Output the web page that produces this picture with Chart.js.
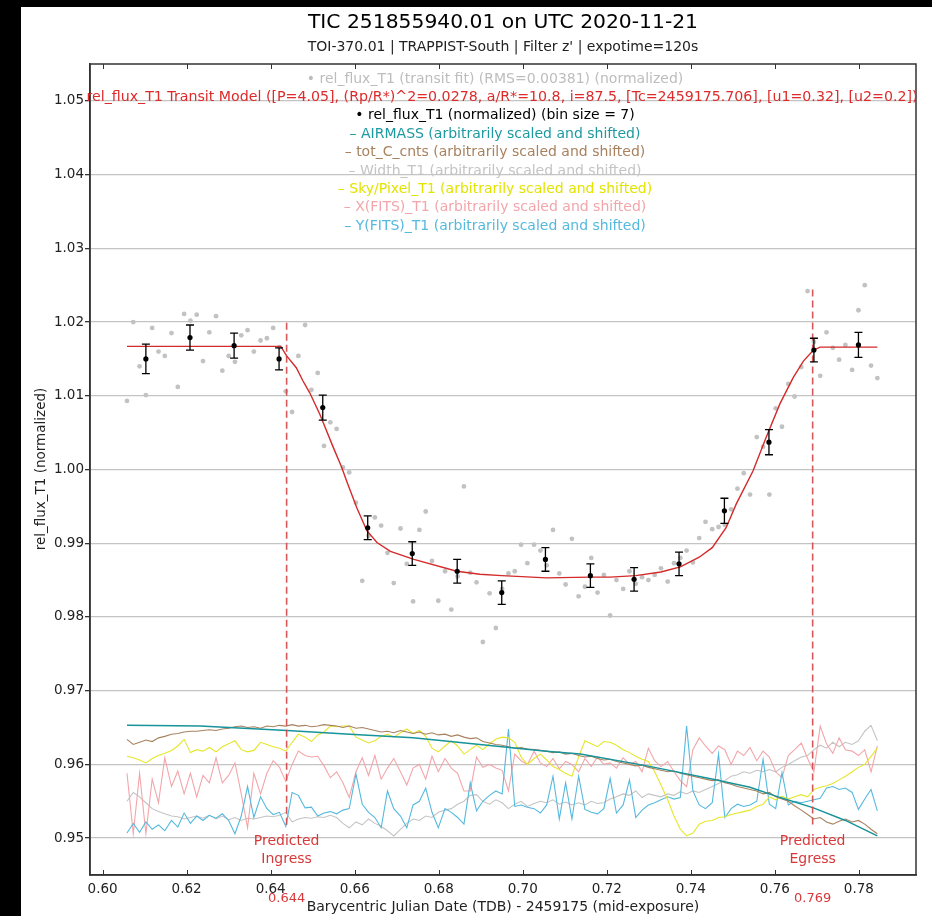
<!DOCTYPE html>
<html>
<head>
<meta charset="utf-8">
<script src="https://cdn.jsdelivr.net/npm/chart.js@4.4.1/dist/chart.umd.min.js"></script>
<style>
  html, body { margin: 0; padding: 0; background: #000; }
  #wrap { position: absolute; left: 21px; top: 7px; width: 911px; height: 909px; background: #fff; }
  canvas { display: block; }
</style>
</head>
<body>
<div id="wrap"><canvas id="lightCurve" width="911" height="909"></canvas></div>
<script>
// time stamps (BJD_TDB - 2459175)
const times = [
  0.6058, 0.6073, 0.6088, 0.6103, 0.6118, 0.6133, 0.6148, 0.6164, 0.6179, 0.6194,
  0.6209, 0.6224, 0.6239, 0.6254, 0.6270, 0.6285, 0.6300, 0.6315, 0.6330, 0.6345,
  0.6360, 0.6376, 0.6391, 0.6406, 0.6421, 0.6436, 0.6451, 0.6466, 0.6482, 0.6497,
  0.6512, 0.6527, 0.6542, 0.6557, 0.6572, 0.6587, 0.6603, 0.6618, 0.6633, 0.6648,
  0.6663, 0.6678, 0.6693, 0.6709, 0.6724, 0.6739, 0.6754, 0.6769, 0.6784, 0.6799,
  0.6815, 0.6830, 0.6845, 0.6860, 0.6875, 0.6890, 0.6905, 0.6921, 0.6936, 0.6951,
  0.6966, 0.6981, 0.6996, 0.7011, 0.7027, 0.7042, 0.7057, 0.7072, 0.7087, 0.7102,
  0.7117, 0.7133, 0.7148, 0.7163, 0.7178, 0.7193, 0.7208, 0.7223, 0.7239, 0.7254,
  0.7269, 0.7284, 0.7299, 0.7314, 0.7329, 0.7345, 0.7360, 0.7375, 0.7390, 0.7405,
  0.7420, 0.7435, 0.7451, 0.7466, 0.7481, 0.7496, 0.7511, 0.7526, 0.7541, 0.7557,
  0.7572, 0.7587, 0.7602, 0.7617, 0.7632, 0.7647, 0.7663, 0.7678, 0.7693, 0.7708,
  0.7723, 0.7738, 0.7753, 0.7768, 0.7784, 0.7799, 0.7814, 0.7829, 0.7844
];

// rel_flux_T1, normalized, unbinned
const relFlux = [
  1.0093, 1.0200, 1.0140, 1.0101, 1.0192, 1.0160, 1.0154, 1.0185, 1.0112, 1.0211,
  1.0202, 1.0210, 1.0147, 1.0186, 1.0208, 1.0134, 1.0154, 1.0146, 1.0182, 1.0189,
  1.0160, 1.0175, 1.0178, 1.0192, 1.0166, 1.0106, 1.0078, 1.0154, 1.0196, 1.0108,
  1.0131, 1.0032, 1.0064, 1.0055, 1.0003, 0.9996, 0.9955, 0.9849, 0.9910, 0.9935,
  0.9924, 0.9887, 0.9846, 0.9920, 0.9872, 0.9821, 0.9918, 0.9943, 0.9876, 0.9822,
  0.9862, 0.9810, 0.9855, 0.9977, 0.9860, 0.9847, 0.9766, 0.9832, 0.9785, 0.9838,
  0.9859, 0.9862, 0.9898, 0.9873, 0.9898, 0.9890, 0.9870, 0.9918, 0.9859, 0.9844,
  0.9906, 0.9828, 0.9841, 0.9880, 0.9833, 0.9857, 0.9802, 0.9850, 0.9838, 0.9862,
  0.9845, 0.9854, 0.9850, 0.9857, 0.9866, 0.9848, 0.9873, 0.9880, 0.9890, 0.9874,
  0.9907, 0.9929, 0.9919, 0.9922, 0.9925, 0.9946, 0.9974, 0.9995, 0.9966, 1.0044,
  1.0031, 0.9966, 1.0083, 1.0058, 1.0116, 1.0099, 1.0139, 1.0242, 1.0173, 1.0127,
  1.0186, 1.0165, 1.0149, 1.0169, 1.0135, 1.0216, 1.0250, 1.0141, 1.0124
];

// binned (bin size = 7)
const binTimes = [0.6103, 0.6208, 0.6313, 0.6420, 0.6524, 0.6631, 0.6737, 0.6844, 0.6950,
  0.7054, 0.7161, 0.7265, 0.7372, 0.7480, 0.7586, 0.7693, 0.7799];
const binFlux = [1.0150, 1.0179, 1.0168, 1.0150, 1.0084, 0.9921, 0.9886, 0.9862, 0.9833,
  0.9878, 0.9856, 0.9851, 0.9872, 0.9944, 1.0037, 1.0162, 1.0169];
const binErr = [0.0020, 0.0017, 0.0017, 0.0015, 0.0017, 0.0016, 0.0016, 0.0016, 0.0016,
  0.0016, 0.0016, 0.0016, 0.0016, 0.0017, 0.0017, 0.0016, 0.0017];

// transit model
const modelTimes = [0.6058, 0.6424, 0.6438, 0.6461, 0.6477, 0.6493, 0.6517, 0.6549, 0.6569,
  0.6581, 0.6605, 0.6629, 0.6653, 0.6685, 0.6741, 0.6843, 0.6898, 0.6950, 0.7057, 0.7160,
  0.7208, 0.7269, 0.7329, 0.7375, 0.7420, 0.7451, 0.7484, 0.7508, 0.7548, 0.7579, 0.7612,
  0.7644, 0.7668, 0.7692, 0.7708, 0.7844];
const modelFlux = [1.0167, 1.0167, 1.0154, 1.0138, 1.0120, 1.0104, 1.0075, 1.0030, 1.0003,
  0.9984, 0.9948, 0.9917, 0.9901, 0.9889, 0.9878, 0.9862, 0.9858, 0.9856, 0.9853, 0.9854,
  0.9854, 0.9856, 0.9861, 0.9868, 0.9881, 0.9894, 0.9921, 0.9953, 0.9998, 1.0043, 1.0089,
  1.0125, 1.0147, 1.0162, 1.0166, 1.0166];

// comparison quantities (arbitrarily scaled and shifted)
const airmassTimes = [0.6058, 0.6232, 0.6439, 0.6589, 0.6739, 0.6898, 0.7056, 0.7137,
  0.7296, 0.7453, 0.7541, 0.7613, 0.7692, 0.7768, 0.7844];
const airmass = [0.9653, 0.9652, 0.9646, 0.9641, 0.9636, 0.9627, 0.9618, 0.9614,
  0.9598, 0.9580, 0.9569, 0.9555, 0.9541, 0.9524, 0.9503];

const totCnts = [
  0.9634, 0.9627, 0.9630, 0.9633, 0.9631, 0.9636, 0.9638, 0.9641, 0.9642, 0.9644,
  0.9645, 0.9645, 0.9646, 0.9647, 0.9646, 0.9648, 0.9649, 0.9651, 0.9652, 0.9650,
  0.9651, 0.9649, 0.9652, 0.9651, 0.9653, 0.9652, 0.9654, 0.9652, 0.9653, 0.9651,
  0.9652, 0.9654, 0.9653, 0.9652, 0.9650, 0.9652, 0.9649, 0.9650, 0.9648, 0.9646,
  0.9644, 0.9645, 0.9643, 0.9646, 0.9644, 0.9642, 0.9644, 0.9641, 0.9643, 0.9640,
  0.9641, 0.9638, 0.9640, 0.9637, 0.9635, 0.9636, 0.9631, 0.9629, 0.9627, 0.9626,
  0.9624, 0.9622, 0.9623, 0.9621, 0.9620, 0.9619, 0.9618, 0.9616, 0.9617, 0.9614,
  0.9615, 0.9612, 0.9610, 0.9611, 0.9608, 0.9606, 0.9607, 0.9604, 0.9602, 0.9600,
  0.9598, 0.9599, 0.9596, 0.9594, 0.9592, 0.9590, 0.9591, 0.9588, 0.9586, 0.9584,
  0.9582, 0.9580, 0.9578, 0.9579, 0.9575, 0.9573, 0.9570, 0.9568, 0.9566, 0.9564,
  0.9560, 0.9562, 0.9556, 0.9553, 0.9550, 0.9544, 0.9538, 0.9532, 0.9526, 0.9528,
  0.9522, 0.9519, 0.9523, 0.9526, 0.9522, 0.9524, 0.9519, 0.9512, 0.9506
];

const widthT1 = [
  0.9550, 0.9562, 0.9556, 0.9548, 0.9540, 0.9536, 0.9533, 0.9530, 0.9529, 0.9526,
  0.9528, 0.9530, 0.9527, 0.9531, 0.9526, 0.9530, 0.9525, 0.9528, 0.9524, 0.9527,
  0.9526, 0.9528, 0.9530, 0.9529, 0.9531, 0.9535, 0.9522, 0.9526, 0.9528, 0.9527,
  0.9529, 0.9528, 0.9531, 0.9528, 0.9520, 0.9514, 0.9522, 0.9518, 0.9526, 0.9520,
  0.9516, 0.9510, 0.9503, 0.9512, 0.9520, 0.9526, 0.9524, 0.9530, 0.9528, 0.9535,
  0.9538, 0.9540, 0.9546, 0.9550, 0.9558, 0.9559, 0.9550, 0.9546, 0.9552, 0.9548,
  0.9540, 0.9546, 0.9550, 0.9543, 0.9547, 0.9550, 0.9548, 0.9552, 0.9546, 0.9549,
  0.9545, 0.9548, 0.9545, 0.9550, 0.9547, 0.9548, 0.9553, 0.9556, 0.9560, 0.9558,
  0.9564, 0.9555, 0.9560, 0.9558, 0.9556, 0.9560, 0.9558, 0.9563, 0.9560, 0.9564,
  0.9562, 0.9566, 0.9570, 0.9574, 0.9578, 0.9584, 0.9586, 0.9590, 0.9588, 0.9592,
  0.9590, 0.9593, 0.9590, 0.9596, 0.9600, 0.9605, 0.9610, 0.9612, 0.9620, 0.9626,
  0.9622, 0.9630, 0.9624, 0.9630, 0.9627, 0.9632, 0.9645, 0.9653, 0.9632
];

const skyPixel = [
  0.9611, 0.9609, 0.9606, 0.9602, 0.9608, 0.9612, 0.9615, 0.9619, 0.9625, 0.9634,
  0.9616, 0.9620, 0.9618, 0.9623, 0.9617, 0.9624, 0.9628, 0.9632, 0.9620, 0.9617,
  0.9619, 0.9630, 0.9627, 0.9624, 0.9622, 0.9618, 0.9630, 0.9641, 0.9637, 0.9631,
  0.9640, 0.9644, 0.9652, 0.9651, 0.9652, 0.9652, 0.9637, 0.9633, 0.9629, 0.9632,
  0.9638, 0.9641, 0.9637, 0.9643, 0.9648, 0.9642, 0.9646, 0.9638, 0.9622, 0.9617,
  0.9625, 0.9632, 0.9625, 0.9614, 0.9620, 0.9626, 0.9620, 0.9628, 0.9634, 0.9637,
  0.9636, 0.9630, 0.9610, 0.9600, 0.9608, 0.9614, 0.9606, 0.9597, 0.9593, 0.9588,
  0.9584, 0.9610, 0.9632, 0.9628, 0.9624, 0.9631, 0.9630, 0.9626, 0.9620, 0.9616,
  0.9611, 0.9607, 0.9604, 0.9590, 0.9572, 0.9552, 0.9530, 0.9512, 0.9503, 0.9507,
  0.9519, 0.9523, 0.9524, 0.9528, 0.9529, 0.9532, 0.9534, 0.9536, 0.9538, 0.9543,
  0.9546, 0.9556, 0.9552, 0.9557, 0.9553, 0.9556, 0.9559, 0.9556, 0.9566, 0.9569,
  0.9571, 0.9574, 0.9579, 0.9584, 0.9590, 0.9596, 0.9600, 0.9611, 0.9622
];

const xFits = [
  0.9588, 0.9506, 0.9588, 0.9506, 0.9580, 0.9548, 0.9609, 0.9570, 0.9591, 0.9560,
  0.9588, 0.9556, 0.9585, 0.9575, 0.9609, 0.9575, 0.9585, 0.9602, 0.9560, 0.9514,
  0.9588, 0.9560, 0.9588, 0.9605, 0.9596, 0.9577, 0.9600, 0.9618, 0.9612, 0.9610,
  0.9611, 0.9598, 0.9582, 0.9590, 0.9575, 0.9555, 0.9590, 0.9609, 0.9585, 0.9612,
  0.9580, 0.9595, 0.9608, 0.9590, 0.9572, 0.9595, 0.9600, 0.9580, 0.9611, 0.9590,
  0.9608, 0.9595, 0.9588, 0.9564, 0.9564, 0.9610, 0.9596, 0.9600, 0.9595, 0.9592,
  0.9564, 0.9614, 0.9605, 0.9600, 0.9618, 0.9602, 0.9597, 0.9608, 0.9594, 0.9604,
  0.9600, 0.9590, 0.9608, 0.9597, 0.9610, 0.9600, 0.9602, 0.9595, 0.9609, 0.9600,
  0.9604, 0.9590, 0.9622, 0.9605, 0.9597, 0.9604, 0.9590, 0.9578, 0.9570, 0.9620,
  0.9636, 0.9625, 0.9615, 0.9625, 0.9620, 0.9600, 0.9618, 0.9612, 0.9623, 0.9605,
  0.9618, 0.9610, 0.9590, 0.9582, 0.9612, 0.9620, 0.9629, 0.9608, 0.9590, 0.9652,
  0.9628, 0.9615, 0.9636, 0.9620, 0.9618, 0.9612, 0.9620, 0.9590, 0.9625
];

const yFits = [
  0.9507, 0.9520, 0.9508, 0.9522, 0.9512, 0.9518, 0.9510, 0.9524, 0.9515, 0.9534,
  0.9520, 0.9530, 0.9524, 0.9531, 0.9527, 0.9533, 0.9524, 0.9506, 0.9530, 0.9570,
  0.9528, 0.9556, 0.9540, 0.9532, 0.9535, 0.9516, 0.9562, 0.9558, 0.9541, 0.9542,
  0.9530, 0.9534, 0.9536, 0.9533, 0.9538, 0.9540, 0.9587, 0.9546, 0.9535, 0.9528,
  0.9514, 0.9564, 0.9540, 0.9530, 0.9514, 0.9545, 0.9550, 0.9568, 0.9535, 0.9514,
  0.9540, 0.9535, 0.9528, 0.9519, 0.9575, 0.9537, 0.9550, 0.9558, 0.9564, 0.9560,
  0.9648, 0.9543, 0.9545, 0.9542, 0.9540, 0.9534, 0.9545, 0.9584, 0.9526, 0.9575,
  0.9526, 0.9584, 0.9539, 0.9535, 0.9533, 0.9540, 0.9581, 0.9534, 0.9545, 0.9579,
  0.9528, 0.9538, 0.9545, 0.9548, 0.9552, 0.9556, 0.9553, 0.9555, 0.9652, 0.9564,
  0.9545, 0.9540, 0.9548, 0.9614, 0.9528, 0.9540, 0.9546, 0.9543, 0.9545, 0.9550,
  0.9607, 0.9546, 0.9540, 0.9589, 0.9545, 0.9550, 0.9548, 0.9550, 0.9552, 0.9554,
  0.9568, 0.9570, 0.9566, 0.9568, 0.9562, 0.9539, 0.9553, 0.9566, 0.9537
];

// predicted ingress / egress
const ingressT = 0.6438, egressT = 0.7690;
const ingressSpan = [1.0199, 0.9516];
const egressSpan = [1.0244, 0.9516];

// axis ticks
const xTicks = [0.60, 0.62, 0.64, 0.66, 0.68, 0.70, 0.72, 0.74, 0.76, 0.78];
const yTicks = [0.95, 0.96, 0.97, 0.98, 0.99, 1.00, 1.01, 1.02, 1.03, 1.04, 1.05];

const legendLines = [
  { text: '\u2022 rel_flux_T1 (transit fit) (RMS=0.00381) (normalized)', color: '#bdbdbd' },
  { text: 'rel_flux_T1 Transit Model ([P=4.05], (Rp/R*)^2=0.0278, a/R*=10.8, i=87.5, [Tc=2459175.706], [u1=0.32], [u2=0.2])', color: '#dd2b2b' },
  { text: '\u2022 rel_flux_T1 (normalized) (bin size = 7)', color: '#000000' },
  { text: '\u2013 AIRMASS (arbitrarily scaled and shifted)', color: '#1c9aa0' },
  { text: '\u2013 tot_C_cnts (arbitrarily scaled and shifted)', color: '#a8825f' },
  { text: '\u2013 Width_T1 (arbitrarily scaled and shifted)', color: '#c4c4c4' },
  { text: '\u2013 Sky/Pixel_T1 (arbitrarily scaled and shifted)', color: '#e3e300' },
  { text: '\u2013 X(FITS)_T1 (arbitrarily scaled and shifted)', color: '#f2a6ab' },
  { text: '\u2013 Y(FITS)_T1 (arbitrarily scaled and shifted)', color: '#55b9de' }
];

const FONT = "'DejaVu Sans', sans-serif";
const pts = (xs, ys) => xs.map((t, i) => ({ x: t, y: ys[i] }));

const line = (label, xs, ys, color, width) => ({
  label, data: pts(xs, ys), showLine: true, borderColor: color, borderWidth: width,
  pointRadius: 0, fill: false
});

// frame, inward x ticks, error bars, labels and legend text
const overlay = {
  id: 'overlay',
  afterDatasetsDraw(chart) {
    const { ctx, chartArea: a, scales: { x, y } } = chart;
    ctx.save();

    // error bars for the binned points
    ctx.strokeStyle = '#000';
    ctx.lineWidth = 1.3;
    binTimes.forEach((t, i) => {
      const px = x.getPixelForValue(t);
      const top = y.getPixelForValue(binFlux[i] + binErr[i]);
      const bot = y.getPixelForValue(binFlux[i] - binErr[i]);
      ctx.beginPath();
      ctx.moveTo(px, top); ctx.lineTo(px, bot);
      ctx.moveTo(px - 4, top); ctx.lineTo(px + 4, top);
      ctx.moveTo(px - 4, bot); ctx.lineTo(px + 4, bot);
      ctx.stroke();
    });

    // box around plot area
    ctx.strokeStyle = '#333';
    ctx.lineWidth = 1.5;
    ctx.strokeRect(a.left, a.top, a.right - a.left, a.bottom - a.top);

    // x ticks pointing inward, top and bottom
    ctx.lineWidth = 1;
    x.ticks.forEach(tk => {
      const px = Math.round(x.getPixelForValue(tk.value)) + 0.5;
      ctx.beginPath();
      ctx.moveTo(px, a.bottom); ctx.lineTo(px, a.bottom - 5);
      ctx.moveTo(px, a.top); ctx.lineTo(px, a.top + 5);
      ctx.stroke();
    });

    // legend text
    ctx.textAlign = 'center';
    ctx.textBaseline = 'middle';
    legendLines.forEach((l, i) => {
      ctx.fillStyle = l.color;
      ctx.font = (i === 1 ? '14.2px ' : '14px ') + FONT;
      const cx = i === 1 ? 481 : 474;
      ctx.fillText(l.text, cx, 72 + i * 18.4);
    });

    // predicted ingress / egress labels
    ctx.fillStyle = '#d9383a';
    [[ingressT, 'Ingress', '0.644'], [egressT, 'Egress', '0.769']].forEach(([t, word, val]) => {
      const px = x.getPixelForValue(t);
      ctx.font = '14px ' + FONT;
      ctx.fillText('Predicted', px, 834);
      ctx.fillText(word, px, 852);
      ctx.font = '13px ' + FONT;
      ctx.fillText(val, px, 892);
    });

    // titles
    ctx.fillStyle = '#000';
    ctx.font = '20.3px ' + FONT;
    ctx.fillText('TIC 251855940.01 on UTC 2020-11-21', 482, 16);
    ctx.font = '14px ' + FONT;
    ctx.fillStyle = '#222';
    ctx.fillText("TOI-370.01 | TRAPPIST-South | Filter z' | expotime=120s", 482, 40);

    // axis titles
    ctx.fillText('Barycentric Julian Date (TDB) - 2459175 (mid-exposure)', 482, 900);
    ctx.font = '13.5px ' + FONT;
    ctx.translate(20, 462);
    ctx.rotate(-Math.PI / 2);
    ctx.fillText('rel_flux_T1 (normalized)', 0, 0);
    ctx.restore();
  }
};

new Chart(document.getElementById('lightCurve').getContext('2d'), {
  type: 'scatter',
  data: {
    datasets: [
      { label: 'rel_flux_T1 (normalized) (bin size = 7)', data: pts(binTimes, binFlux),
        pointRadius: 2.6, pointBackgroundColor: '#000', pointBorderWidth: 0 },
      line('rel_flux_T1 Transit Model', modelTimes, modelFlux, '#d42a2a', 1.4),
      { label: 'Predicted Ingress', data: [{ x: ingressT, y: ingressSpan[0] }, { x: ingressT, y: ingressSpan[1] }],
        showLine: true, borderColor: 'rgba(210,70,70,0.9)', borderWidth: 1.6, borderDash: [7, 4], pointRadius: 0 },
      { label: 'Predicted Egress', data: [{ x: egressT, y: egressSpan[0] }, { x: egressT, y: egressSpan[1] }],
        showLine: true, borderColor: 'rgba(210,70,70,0.9)', borderWidth: 1.6, borderDash: [7, 4], pointRadius: 0 },
      line('AIRMASS', airmassTimes, airmass, '#17939a', 1.5),
      line('tot_C_cnts', times, totCnts, '#a8825f', 1.1),
      line('Sky/Pixel_T1', times, skyPixel, '#e6e62a', 1.1),
      line('Y(FITS)_T1', times, yFits, '#55b9de', 1.1),
      line('X(FITS)_T1', times, xFits, '#f2a6ab', 1.1),
      line('Width_T1', times, widthT1, '#c4c4c4', 1.1),
      { label: 'rel_flux_T1 (transit fit)', data: pts(times, relFlux),
        pointRadius: 2.4, pointBackgroundColor: '#c2c2c2', pointBorderWidth: 0 }
    ]
  },
  options: {
    responsive: false,
    animation: false,
    layout: { padding: { left: 0, top: 57, right: 16, bottom: 0 } },
    plugins: { legend: { display: false }, tooltip: { enabled: false }, title: { display: false } },
    scales: {
      x: {
        type: 'linear', min: 0.597, max: 0.7936,
        afterBuildTicks: s => { s.ticks = xTicks.map(v => ({ value: v })); },
        afterFit: s => { s.height = 41; },
        border: { display: true, color: '#333', width: 1.5 },
        grid: { display: true, drawOnChartArea: false, drawTicks: false },
        ticks: {
          autoSkip: false, maxRotation: 0,
          padding: 6, color: '#222', font: { family: FONT, size: 13.5 },
          callback: v => v.toFixed(2)
        }
      },
      y: {
        type: 'linear', min: 0.945, max: 1.055,
        afterBuildTicks: s => { s.ticks = yTicks.map(v => ({ value: v })); },
        afterFit: s => { s.width = 69; },
        border: { display: true, color: '#333', width: 1.5 },
        grid: { color: '#c4c4c4', lineWidth: 1.3, tickLength: 5, tickColor: '#333' },
        ticks: {
          autoSkip: false,
          padding: 1, color: '#222', font: { family: FONT, size: 13.5 },
          callback: v => v.toFixed(2)
        }
      }
    }
  },
  plugins: [overlay]
});
</script>
</body>
</html>
